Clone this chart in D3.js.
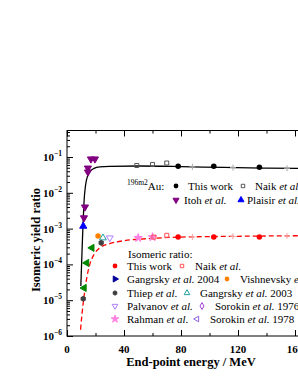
<!DOCTYPE html>
<html>
<head>
<meta charset="utf-8">
<script src="https://cdn.jsdelivr.net/npm/d3@7"></script>
<style>
  body { margin: 0; background: #fff; }
  text { font-family: "Liberation Serif", "Times New Roman", serif; }
</style>
</head>
<body>
<div id="chart"></div>
<script>
// fit curves
var fitAuE = [9.7, 10.3, 10.8, 11.3, 12, 13, 14.5, 16.5, 19, 23, 30, 50, 80, 110, 140, 180];
var fitAuVal = [2.5e-5, 1.2e-4, 4.5e-4, 1.4e-3, 6e-3, 1.6e-2, 3.0e-2, 4.1e-2, 4.8e-2, 5.3e-2, 5.5e-2, 5.6e-2, 5.4e-2, 5.1e-2, 4.9e-2, 4.7e-2];
var fitRatioE = [9.5, 10.5, 12, 14, 16, 19, 23, 30, 40, 55, 80, 120, 180];
var fitRatioVal = [1.5e-6, 4e-6, 1.3e-5, 4.5e-5, 1.0e-4, 1.9e-4, 2.9e-4, 3.8e-4, 4.6e-4, 5.2e-4, 5.8e-4, 6.1e-4, 6.4e-4];

// 196m2Au yield ratio points
var auThisWorkE = [78, 103, 135];
var auThisWorkVal = [0.055, 0.055, 0.052];
var auNaikE = [49, 60, 70];
var auNaikVal = [0.058, 0.062, 0.068];
var itohE = [11.9, 12.6, 14.7, 14.7, 16.8, 19.6];
var itohVal = [2.0e-3, 4.0e-3, 0.038, 0.049, 0.088, 0.088];
var plaisirE = [11.4];
var plaisirVal = [1.17e-3];

// isomeric ratio points
var irThisWorkE = [78, 103, 135];
var irThisWorkVal = [5.8e-4, 5.8e-4, 5.8e-4];
var irNaikE = [61, 70];
var irNaikVal = [5.8e-4, 6.5e-4];
var vishnevskyE = [21.8];
var vishnevskyVal = [6.2e-4];
var thiepE = [11.4, 24];
var thiepVal = [1.1e-5, 4.0e-4];
var gangrsky2003E = [25.2];
var gangrsky2003Val = [5.5e-4];
var palvanovE = [30];
var palvanovVal = [5.5e-4];
var rahmanE = [50, 60];
var rahmanVal = [5.5e-4, 5.8e-4];
var greenE = [12, 13.8, 17.5];
var greenVal = [2.2e-5, 1.1e-4, 2.9e-4];
var greyCrossE = [88, 116.5, 154.4];

var xTicks = [0, 40, 80, 120, 160];
var xMinorTicks = [20, 60, 100, 140, 180];
var yTickExps = [-6, -5, -4, -3, -2, -1];

var W = 298, H = 385;
var pLeft = 67, pTop = 130.5, pBottom = 336;

var x = d3.scaleLinear().domain([0, 180]).range([pLeft, pLeft + 180 * 1.425]);
var y = d3.scaleLog().domain([1e-6, 0.55]).range([pBottom, pTop]);

var svg = d3.select("#chart").append("svg")
    .attr("width", W).attr("height", H);

// frame
svg.append("rect")
    .attr("x", pLeft).attr("y", pTop)
    .attr("width", x(180) - pLeft).attr("height", pBottom - pTop)
    .attr("fill", "none").attr("stroke", "#000").attr("stroke-width", 1);

// x axis major + minor, bottom and top, ticks inward
function xAxisG(yPos, dir) {
  var g = svg.append("g").attr("transform", "translate(0," + yPos + ")");
  g.call(d3.axisBottom(x).tickValues(xTicks).tickSize(-6 * dir).tickFormat(""));
  var g2 = svg.append("g").attr("transform", "translate(0," + yPos + ")");
  g2.call(d3.axisBottom(x).tickValues(xMinorTicks).tickSize(-3 * dir).tickFormat(""));
  g.select(".domain").remove();
  g2.select(".domain").remove();
}
xAxisG(pBottom, 1);
xAxisG(pTop, -1);

svg.selectAll(".xlab").data(xTicks).enter().append("text")
    .attr("x", function(d) { return x(d); })
    .attr("y", 353)
    .attr("text-anchor", "middle")
    .style("font-size", "11px").style("font-weight", "bold")
    .text(function(d) { return d; });

// y axis ticks
var yMinor = [];
yTickExps.forEach(function(e) {
  for (var k = 2; k <= 9; k++) {
    var v = k * Math.pow(10, e);
    if (v <= 0.55) yMinor.push(v);
  }
});
var ya = svg.append("g").attr("transform", "translate(" + pLeft + ",0)")
    .call(d3.axisLeft(y).tickValues(yTickExps.map(function(e) { return Math.pow(10, e); })).tickSize(-6).tickFormat(""));
ya.select(".domain").remove();
var ya2 = svg.append("g").attr("transform", "translate(" + pLeft + ",0)")
    .call(d3.axisLeft(y).tickValues(yMinor).tickSize(-3).tickFormat(""));
ya2.select(".domain").remove();

var ylab = svg.selectAll(".ylab").data(yTickExps).enter().append("text")
    .attr("x", 62)
    .attr("y", function(d) { return y(Math.pow(10, d)) + 4; })
    .attr("text-anchor", "end")
    .style("font-size", "11px").style("font-weight", "bold");
ylab.append("tspan").text("10");
ylab.append("tspan").attr("dy", -5).style("font-size", "7.5px").text(function(d) { return "\u2212" + (-d); });

// axis titles
svg.append("text")
    .attr("transform", "translate(40,240)rotate(-90)")
    .attr("text-anchor", "middle")
    .style("font-size", "12.5px").style("font-weight", "bold")
    .text("Isomeric yield ratio");
svg.append("text")
    .attr("x", 191).attr("y", 366)
    .attr("text-anchor", "middle")
    .style("font-size", "12.5px").style("font-weight", "bold")
    .text("End-point energy / MeV");

var plot = svg.append("g");
plot.append("clipPath").attr("id", "clip").append("rect")
    .attr("x", pLeft).attr("y", pTop).attr("width", x(180) - pLeft).attr("height", pBottom - pTop);
var inner = plot.append("g").attr("clip-path", "url(#clip)");

var line = d3.line()
    .x(function(d) { return x(d[0]); })
    .y(function(d) { return y(d[1]); })
    .curve(d3.curveMonotoneX);

inner.append("path")
    .datum(d3.zip(fitAuE, fitAuVal))
    .attr("d", line).attr("fill", "none").attr("stroke", "#000").attr("stroke-width", 1.3);
inner.append("path")
    .datum(d3.zip(fitRatioE, fitRatioVal))
    .attr("d", line).attr("fill", "none").attr("stroke", "#ff0000").attr("stroke-width", 1.3)
    .attr("stroke-dasharray", "5,3");

// grey crosses along both curves
function crossPath(cx, cy, s) {
  return "M" + (cx - s) + "," + cy + "H" + (cx + s) + "M" + cx + "," + (cy - s) + "V" + (cy + s);
}
var auInterp = d3.scaleLinear().domain(fitAuE).range(fitAuVal);
var irInterp = d3.scaleLinear().domain(fitRatioE).range(fitRatioVal);
greyCrossE.forEach(function(e) {
  inner.append("path").attr("d", crossPath(x(e), y(auInterp(e)), 3))
      .attr("stroke", "#aaa").attr("stroke-width", 1);
  inner.append("path").attr("d", crossPath(x(e), y(irInterp(e)), 3))
      .attr("stroke", "#f9a0a0").attr("stroke-width", 1);
});

// symbol helpers
var hexagon = {
  draw: function(ctx, size) {
    var r = Math.sqrt(size / 2.598);
    for (var i = 0; i < 6; i++) {
      var a = Math.PI / 3 * i + Math.PI / 6;
      if (i === 0) ctx.moveTo(r * Math.cos(a), r * Math.sin(a));
      else ctx.lineTo(r * Math.cos(a), r * Math.sin(a));
    }
    ctx.closePath();
  }
};
function sym(g, es, vs, type, size, rot, fill, stroke) {
  g.selectAll(null).data(d3.zip(es, vs)).enter().append("path")
      .attr("d", d3.symbol().type(type).size(size))
      .attr("transform", function(d) { return "translate(" + x(d[0]) + "," + y(d[1]) + ")rotate(" + rot + ")"; })
      .attr("fill", fill).attr("stroke", stroke).attr("stroke-width", 1);
}

sym(inner, auNaikE, auNaikVal, d3.symbolSquare, 16, 0, "none", "#555");
sym(inner, auThisWorkE, auThisWorkVal, d3.symbolCircle, 24, 0, "#000", "none");
sym(inner, itohE, itohVal, d3.symbolTriangle, 22, 180, "#800080", "#800080");
sym(inner, plaisirE, plaisirVal, d3.symbolTriangle, 22, 0, "#0000ff", "#0000ff");

sym(inner, rahmanE, rahmanVal, d3.symbolStar, 22, 0, "#ff80e0", "#ff80e0");
sym(inner, irNaikE, irNaikVal, d3.symbolSquare, 16, 0, "none", "#ff5050");
sym(inner, irThisWorkE, irThisWorkVal, d3.symbolCircle, 24, 0, "#ff0000", "none");
sym(inner, palvanovE, palvanovVal, d3.symbolTriangle, 20, 180, "none", "#b080ff");
sym(inner, gangrsky2003E, gangrsky2003Val, d3.symbolTriangle, 20, 0, "none", "#20a0a0");
sym(inner, vishnevskyE, vishnevskyVal, d3.symbolCircle, 24, 0, "#ff8000", "none");
sym(inner, thiepE, thiepVal, hexagon, 24, 0, "#404040", "none");
sym(inner, greenE, greenVal, d3.symbolTriangle, 22, -90, "#008800", "#008800");

// legends
var fs = "11px";
var auLabel = svg.append("text").attr("x", 127).attr("y", 190).style("font-size", fs);
auLabel.append("tspan").attr("dy", -5).style("font-size", "7.5px").text("196m2");
auLabel.append("tspan").attr("dy", 5).text("Au:");

var legendAu = [
  {sx: 176, sy: 186, tx: 188, type: d3.symbolCircle, size: 18, rot: 0, fill: "#000", stroke: "none", a: "This work", it: "", b: ""},
  {sx: 243, sy: 186, tx: 255, type: d3.symbolSquare, size: 12, rot: 0, fill: "none", stroke: "#555", a: "Naik ", it: "et al.", b: ""},
  {sx: 176, sy: 200, tx: 184, type: d3.symbolTriangle, size: 16, rot: 180, fill: "#800080", stroke: "#800080", a: "Itoh ", it: "et al.", b: ""},
  {sx: 241, sy: 200, tx: 247, type: d3.symbolTriangle, size: 16, rot: 0, fill: "#0000ff", stroke: "#0000ff", a: "Plaisir ", it: "et al.", b: ""}
];

svg.append("text").attr("x", 128).attr("y", 258).style("font-size", fs).text("Isomeric ratio:");
var legendIr = [
  {sx: 115, sy: 266, tx: 127, type: d3.symbolCircle, size: 18, rot: 0, fill: "#ff0000", stroke: "none", a: "This work", it: "", b: ""},
  {sx: 182, sy: 266, tx: 195, type: d3.symbolSquare, size: 12, rot: 0, fill: "none", stroke: "#ff5050", a: "Naik ", it: "et al.", b: ""},
  {sx: 115, sy: 279, tx: 127, type: d3.symbolTriangle, size: 16, rot: 90, fill: "#000099", stroke: "#000099", a: "Gangrsky ", it: "et al.", b: " 2004"},
  {sx: 227, sy: 279, tx: 240, type: d3.symbolCircle, size: 18, rot: 0, fill: "#ff8000", stroke: "none", a: "Vishnevsky ", it: "et al.", b: ""},
  {sx: 115, sy: 293, tx: 127, type: hexagon, size: 18, rot: 0, fill: "#404040", stroke: "none", a: "Thiep ", it: "et al.", b: ""},
  {sx: 187, sy: 293, tx: 200, type: d3.symbolTriangle, size: 14, rot: 0, fill: "none", stroke: "#20a0a0", a: "Gangrsky ", it: "et al.", b: " 2003"},
  {sx: 115, sy: 306, tx: 127, type: d3.symbolTriangle, size: 14, rot: 180, fill: "none", stroke: "#b080ff", a: "Palvanov ", it: "et al.", b: ""},
  {sx: 202, sy: 306, tx: 215, type: d3.symbolDiamond, size: 14, rot: 0, fill: "none", stroke: "#a040d0", a: "Sorokin ", it: "et al.", b: " 1976"},
  {sx: 115, sy: 319, tx: 127, type: d3.symbolStar, size: 18, rot: 0, fill: "#ff80e0", stroke: "#ff80e0", a: "Rahman ", it: "et al.", b: ""},
  {sx: 197, sy: 319, tx: 210, type: d3.symbolTriangle, size: 14, rot: -90, fill: "none", stroke: "#9060e0", a: "Sorokin ", it: "et al.", b: " 1978"}
];

function drawLegend(items) {
  items.forEach(function(it) {
    svg.append("path")
        .attr("d", d3.symbol().type(it.type).size(it.size))
        .attr("transform", "translate(" + it.sx + "," + it.sy + ")rotate(" + it.rot + ")")
        .attr("fill", it.fill).attr("stroke", it.stroke);
    var t = svg.append("text").attr("x", it.tx).attr("y", it.sy + 4).style("font-size", fs);
    t.append("tspan").text(it.a);
    if (it.it) t.append("tspan").style("font-style", "italic").text(it.it);
    if (it.b) t.append("tspan").text(it.b);
  });
}
drawLegend(legendAu);
drawLegend(legendIr);
</script>
</body>
</html>
